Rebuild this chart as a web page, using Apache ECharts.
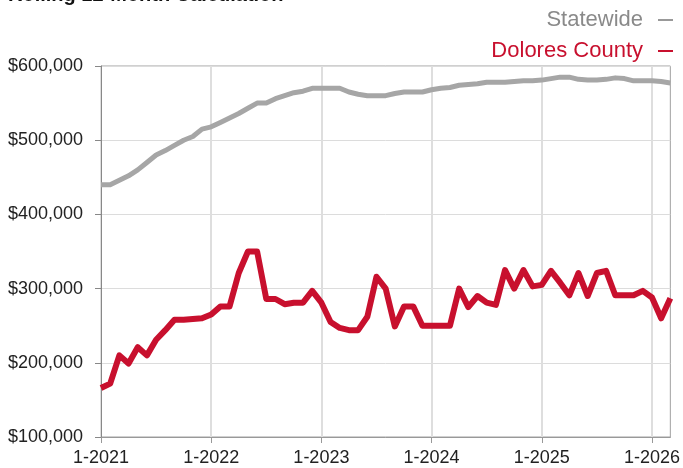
<!DOCTYPE html>
<html>
<head>
<meta charset="utf-8">
<script src="https://cdn.jsdelivr.net/npm/echarts@6/dist/echarts.min.js"></script>
<style>
html,body{margin:0;padding:0;background:#fff;}
#chart{width:683px;height:468px;}
</style>
</head>
<body>
<div id="chart"></div>
<script>
const months = [
 "1-2021","2-2021","3-2021","4-2021","5-2021","6-2021","7-2021","8-2021","9-2021","10-2021","11-2021","12-2021",
 "1-2022","2-2022","3-2022","4-2022","5-2022","6-2022","7-2022","8-2022","9-2022","10-2022","11-2022","12-2022",
 "1-2023","2-2023","3-2023","4-2023","5-2023","6-2023","7-2023","8-2023","9-2023","10-2023","11-2023","12-2023",
 "1-2024","2-2024","3-2024","4-2024","5-2024","6-2024","7-2024","8-2024","9-2024","10-2024","11-2024","12-2024",
 "1-2025","2-2025","3-2025","4-2025","5-2025","6-2025","7-2025","8-2025","9-2025","10-2025","11-2025","12-2025",
 "1-2026","2-2026","3-2026"
];
const statewide = [
 440000,440000,446000,452000,460000,470000,480000,486000,493000,500000,505000,515000,
 518000,524000,530000,536000,543000,550000,550000,556000,560000,564000,566000,570000,
 570000,570000,570000,565000,562000,560000,560000,560000,563000,565000,565000,565000,
 568000,570000,571000,574000,575000,576000,578000,578000,578000,579000,580000,580000,
 581000,583000,585000,585000,582000,581000,581000,582000,584000,583000,580000,580000,
 580000,579000,577000
];
const dolores = [
 166000,172000,210000,199000,221000,210000,231000,244000,258000,258000,259000,260000,
 265000,276000,276000,321000,350000,350000,286000,286000,279000,281000,281000,297000,
 281000,255000,247000,244000,244000,262000,316000,300000,249000,276000,276000,250000,
 250000,250000,250000,300000,275000,290000,281000,278000,325000,300000,325000,303000,
 305000,324000,308000,291000,321000,290000,321000,324000,291000,291000,291000,297000,
 288000,260000,287000
];
const yTicks = {min: 100000, max: 600000, interval: 100000};
const titleText = "Rolling 12-Month Calculation";
const seriesNames = ["Statewide", "Dolores County"];

const GRAY = '#a6a6a6', RED = '#c8102e';
const FONT = '"Liberation Sans", Arial, Helvetica, sans-serif';
const yearTick = (idx) => idx % 12 === 0;

const chart = echarts.init(document.getElementById('chart'), null, {renderer: 'canvas'});
chart.setOption({
  animation: false,
  backgroundColor: '#fff',
  textStyle: {fontFamily: FONT},
  title: {
    text: titleText, left: 8, top: -15, padding: 0,
    textStyle: {fontFamily: FONT, fontSize: 20, fontWeight: 'bold', color: '#111'}
  },
  legend: {
    orient: 'vertical', right: 10, top: 9, padding: 0, align: 'right',
    itemWidth: 15, itemHeight: 2, itemGap: 9, icon: 'rect',
    data: [
      {name: seriesNames[0], textStyle: {color: '#8a8a8a'}, itemStyle: {color: '#999'}},
      {name: seriesNames[1], textStyle: {color: RED}, itemStyle: {color: RED}}
    ],
    textStyle: {fontFamily: FONT, fontSize: 22, padding: [0, 10, 0, 0]}
  },
  grid: {left: 101, right: 12, top: 66, bottom: 31, show: true, borderColor: '#a0a0a0', borderWidth: 1, containLabel: false},
  xAxis: {
    type: 'category', boundaryGap: false, data: months,
    axisLine: {lineStyle: {color: '#999', width: 1}},
    axisTick: {show: true, interval: yearTick, length: 6, lineStyle: {color: '#999'}},
    axisLabel: {interval: yearTick, fontSize: 18, color: '#222', margin: 12, fontFamily: FONT},
    splitLine: {show: true, interval: yearTick, lineStyle: {color: '#dedede', width: 2}}
  },
  yAxis: {
    type: 'value', min: yTicks.min, max: yTicks.max, interval: yTicks.interval,
    axisLine: {show: true, lineStyle: {color: '#888', width: 1}},
    axisTick: {show: true, length: 6, lineStyle: {color: '#888'}},
    axisLabel: {fontSize: 18, color: '#222', margin: 18, fontFamily: FONT,
      formatter: v => '$' + v.toLocaleString('en-US')},
    splitLine: {show: true, lineStyle: {color: '#dcdcdc', width: 1}}
  },
  series: [
    {name: seriesNames[0], type: 'line', data: statewide, symbol: 'none', z: 3,
     lineStyle: {color: GRAY, width: 5, join: 'round'}, itemStyle: {color: GRAY}},
    {name: seriesNames[1], type: 'line', data: dolores, symbol: 'none', z: 4,
     lineStyle: {color: RED, width: 6, join: 'round'}, itemStyle: {color: RED}}
  ]
});
</script>
</body>
</html>
